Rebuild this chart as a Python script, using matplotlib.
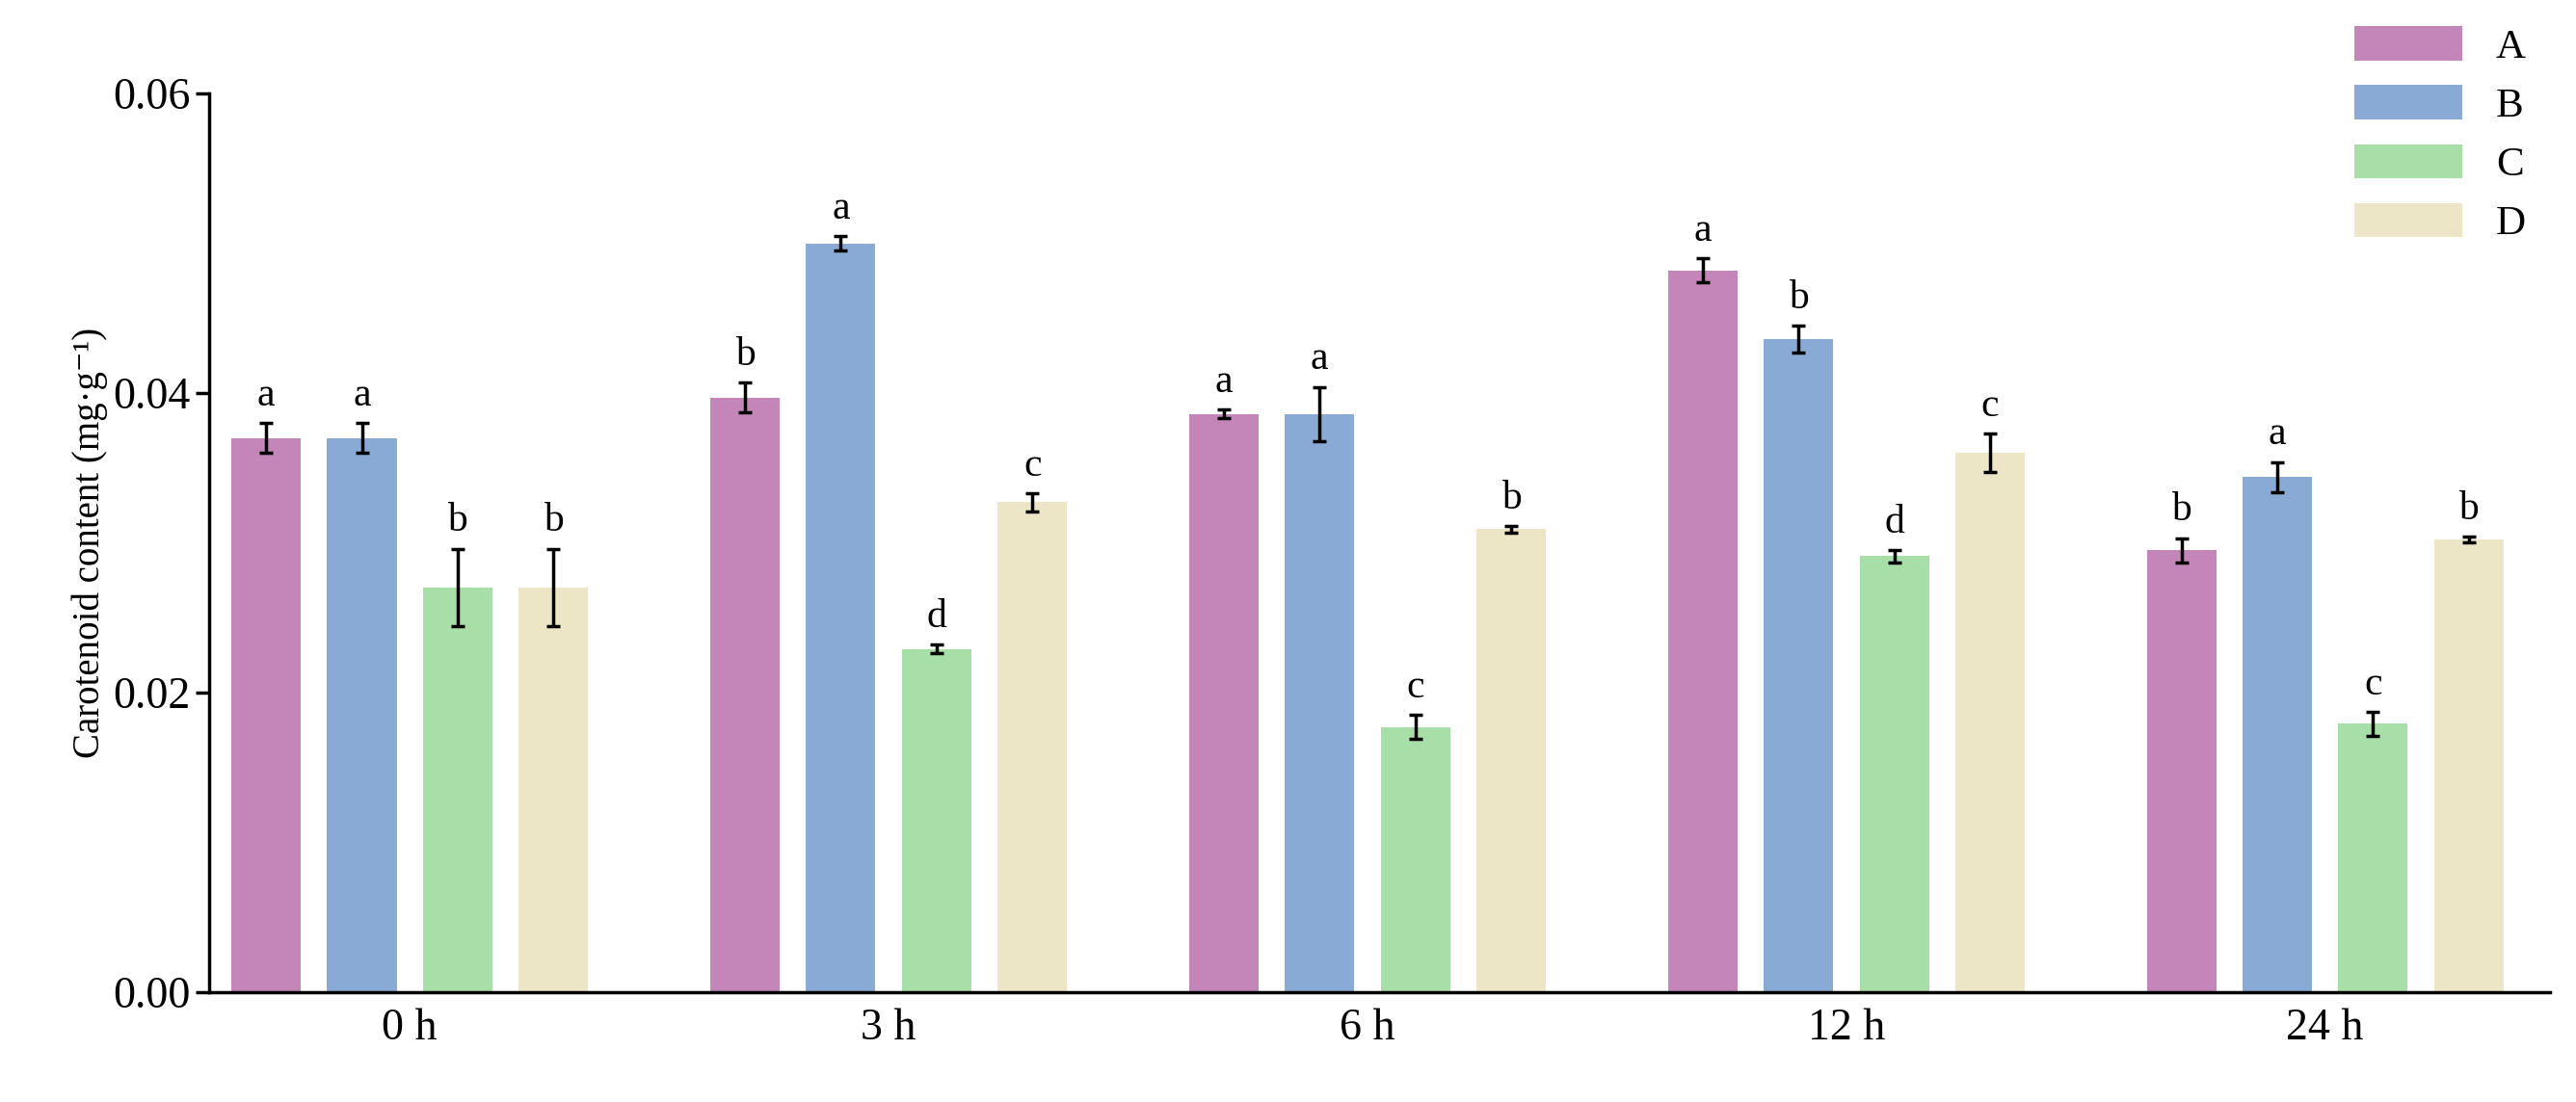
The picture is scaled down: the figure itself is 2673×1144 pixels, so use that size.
import numpy as np
import matplotlib.pyplot as plt

plt.rcParams['font.family'] = ['Liberation Serif', 'DejaVu Serif']

groups = ["0 h", "3 h", "6 h", "12 h", "24 h"]
series = ["A", "B", "C", "D"]
colors = ["#c486b8", "#89aad5", "#a8dfa8", "#ede6c6"]
values = [
    [0.0370, 0.0397, 0.0386, 0.0482, 0.0295],
    [0.0370, 0.0500, 0.0386, 0.0436, 0.0344],
    [0.0270, 0.0229, 0.0177, 0.0291, 0.0179],
    [0.0270, 0.0327, 0.0309, 0.0360, 0.0302],
]
errors = [
    [0.0010, 0.0010, 0.0003, 0.0008, 0.0008],
    [0.0010, 0.0005, 0.0018, 0.0009, 0.0010],
    [0.0026, 0.0003, 0.0008, 0.0004, 0.0008],
    [0.0026, 0.0006, 0.0002, 0.0013, 0.0002],
]
letters = [
    ["a", "b", "a", "a", "b"],
    ["a", "a", "a", "b", "a"],
    ["b", "d", "c", "d", "c"],
    ["b", "c", "b", "c", "b"],
]

fig = plt.figure(figsize=(26.73, 11.44), dpi=100)
ax = fig.add_axes([0.081, 0.10, 0.909, 0.815])

x = np.arange(len(groups))
w = 0.145
step = 0.2
for i, s in enumerate(series):
    pos = x + (i - 1.5) * step
    ax.bar(pos, values[i], w, color=colors[i], label=s,
           yerr=errors[i], capsize=5, error_kw=dict(elinewidth=2.5, capthick=2.5, ecolor="black"))
    for p, v, e, t in zip(pos, values[i], errors[i], letters[i]):
        ax.text(p, v + e + 0.0006, t, ha="center", va="bottom", fontsize=30)

ax.set_xlim(-0.42, 4.47)
ax.set_ylim(0, 0.06)
ax.set_yticks([0, 0.02, 0.04, 0.06])
ax.set_yticklabels(["0.00", "0.02", "0.04", "0.06"], fontsize=33)
ax.set_xticks(x)
ax.set_xticklabels(groups, fontsize=33)
ax.tick_params(axis="x", length=0, pad=12)
ax.tick_params(axis="y", length=10, width=2.5)
ax.set_ylabel("Carotenoid content (mg·g⁻¹)", fontsize=28)
for sp in ["top", "right"]:
    ax.spines[sp].set_visible(False)
for sp in ["left", "bottom"]:
    ax.spines[sp].set_linewidth(2.5)

fig.legend(loc="upper right", bbox_to_anchor=(0.995, 1.01), frameon=False,
           fontsize=31, handlelength=2.6, handleheight=0.9, labelspacing=0.45)
fig.savefig("out.png")
